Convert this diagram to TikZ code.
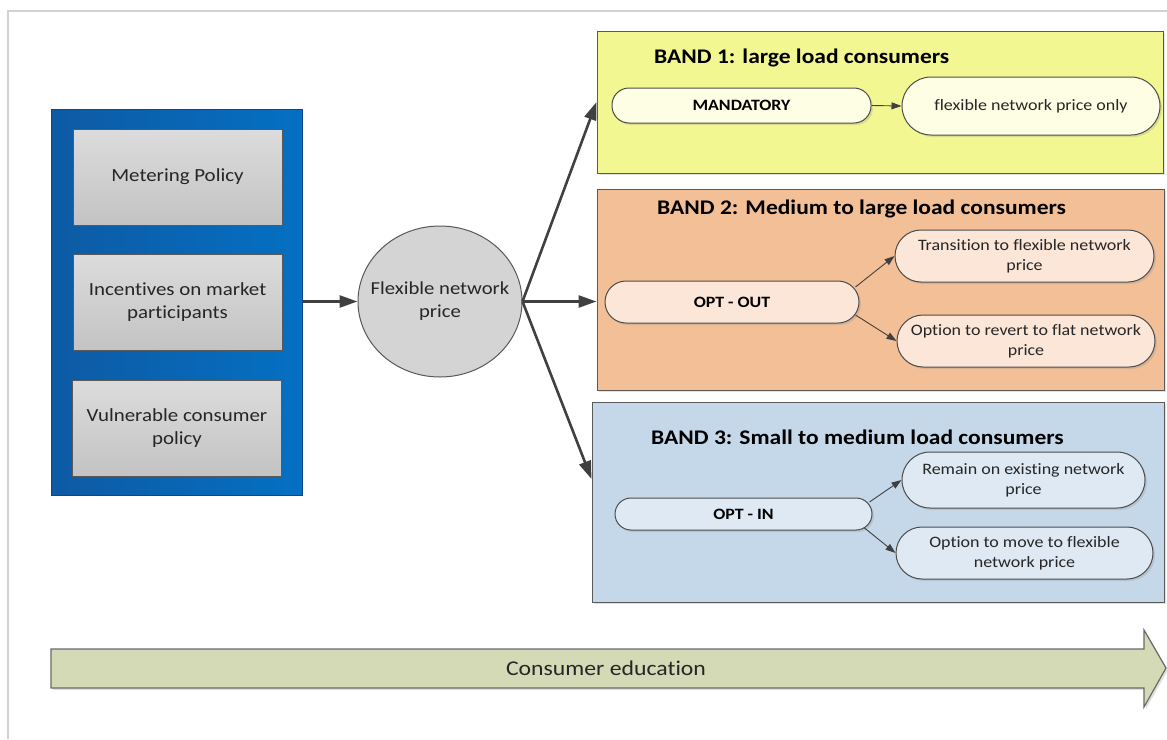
\documentclass[tikz,border=0pt]{standalone}
\usepackage{fontspec}
\setmainfont{Carlito}[FakeStretch=1.13,Ligatures=NoCommon]
\usetikzlibrary{arrows.meta,shapes.geometric,shadows,calc}

\definecolor{frameline}{RGB}{210,210,210}
\definecolor{edge}{RGB}{89,89,89}
\definecolor{arrowgrey}{RGB}{64,64,64}
\definecolor{panelL}{RGB}{14,90,164}
\definecolor{panelR}{RGB}{4,112,194}
\definecolor{boxT}{RGB}{220,220,220}
\definecolor{boxB}{RGB}{195,195,195}
\definecolor{hubfill}{RGB}{212,212,212}
\definecolor{bandA}{RGB}{243,247,145}
\definecolor{pillA}{RGB}{254,254,228}
\definecolor{bandB}{RGB}{242,191,150}
\definecolor{pillB}{RGB}{251,230,216}
\definecolor{bandC}{RGB}{197,216,233}
\definecolor{pillC}{RGB}{222,233,244}
\definecolor{edufill}{RGB}{211,218,181}

\newcommand{\fsz}[2]{\fontsize{#1}{#2}\selectfont}

\tikzset{
  softshadow/.style={drop shadow={opacity=0.22,shadow xshift=2pt,shadow yshift=-2pt}},
  policybox/.style={draw=edge,line width=1pt,top color=boxT,bottom color=boxB,
    minimum width=209pt,minimum height=96pt,inner sep=0pt,align=center,
    font=\fsz{18.5pt}{23pt},text=black!85},
  bandbox/.style={draw=edge,line width=1pt,inner sep=0pt,softshadow},
  bandtitle/.style={anchor=west,inner sep=0pt,font=\bfseries\fsz{20.8pt}{25pt}},
  pill/.style={draw=edge!85!black,line width=1pt,inner sep=0pt,align=center,
    font=\fsz{15.9pt}{20pt},text=black!85,softshadow},
  keypill/.style={pill,font=\bfseries\fsz{15.8pt}{19pt},text=black},
  bigarrow/.style={draw=arrowgrey,line width=2.6pt,-{Triangle[length=18pt,width=12pt]}},
  smallarrow/.style={draw=arrowgrey,line width=0.9pt,-{Triangle[length=10pt,width=7pt]}},
}

\begin{document}
\begin{tikzpicture}[x=1pt,y=-1pt]
\useasboundingbox (0,0) rectangle (1167,739);

% page frame
\draw[frameline,line width=1.2pt] (8,739) -- (8,11) -- (1167,11);

% policy panel
\node[draw=panelL!80!black,line width=1pt,left color=panelL,right color=panelR,
      minimum width=251pt,minimum height=386pt,inner sep=0pt] (panel) at (176.5,302) {};
\node[policybox] (meter) at (177.5,177) {Metering Policy};
\node[policybox] (incent) at (177.5,302) {Incentives on market\\participants};
\node[policybox] (vuln) at (177,428) {Vulnerable consumer\\policy};

% central price node
\node[ellipse,draw=edge,line width=1pt,fill=hubfill,minimum width=164pt,minimum height=151pt,
      inner sep=0pt] (hub) at (440,301.5) {};
\node[inner sep=0pt,align=center,font=\fsz{18.3pt}{23pt},text=black!85] (hubtext) at (hub.center)
      {Flexible network\\price};

% bands
\node[bandbox,fill=bandA,minimum width=566pt,minimum height=142pt] (band1) at (880,102) {};
\node[bandbox,fill=bandB,minimum width=567pt,minimum height=201pt] (band2) at (880.5,289.5) {};
\node[bandbox,fill=bandC,minimum width=572pt,minimum height=200pt] (band3) at (878,502) {};

\node[bandtitle] (t1) at (654,58) {BAND 1: large load consumers};
\node[bandtitle] (t2) at (657,209) {BAND 2: Medium to large load consumers};
\node[bandtitle] (t3) at (651,437) {BAND 3: Small to medium load consumers};

% band 1 options
\node[keypill,fill=pillA,minimum width=259pt,minimum height=35pt,rounded corners=17pt]
  (mand) at (741.5,105.5) {MANDATORY};
\node[pill,fill=pillA,minimum width=258pt,minimum height=58pt,rounded corners=29pt]
  (flexonly) at (1031,106) {flexible network price only};

% band 2 options
\node[keypill,fill=pillB,minimum width=254pt,minimum height=42pt,rounded corners=21pt]
  (optout) at (732,302) {OPT - OUT};
\node[pill,fill=pillB,minimum width=259pt,minimum height=52pt,rounded corners=26pt]
  (trans) at (1024.5,256) {Transition to flexible network\\price};
\node[pill,fill=pillB,minimum width=258pt,minimum height=52pt,rounded corners=26pt]
  (revert) at (1026,341) {Option to revert to flat network\\price};

% band 3 options
\node[keypill,fill=pillC,minimum width=257pt,minimum height=32pt,rounded corners=16pt]
  (optin) at (743.5,514) {OPT - IN};
\node[pill,fill=pillC,minimum width=243pt,minimum height=56pt,rounded corners=28pt]
  (remain) at (1023.5,480) {Remain on existing network\\price};
\node[pill,fill=pillC,minimum width=257pt,minimum height=52pt,rounded corners=26pt]
  (move) at (1024.5,553) {Option to move to flexible\\network price};

% main flow
\draw[bigarrow] (panel.east |- hub.west) -- (hub.west);
\draw[bigarrow] (hub.east) -- (band1.west);
\draw[bigarrow] (hub.east) -- (band2.west |- hub.east);
\draw[bigarrow] (hub.east) -- ([yshift=23pt]band3.west);

% option arrows
\draw[smallarrow] ($(optout.east)+(-4,-15)$) -- (trans.west);
\draw[smallarrow] ($(optout.east)+(-4,13)$) -- (revert.west);
\draw[smallarrow] (mand.east) -- (flexonly.west);
\draw[smallarrow] ($(optin.east)+(-3,-12)$) -- (remain.west);
\draw[smallarrow] ($(optin.east)+(-8,14)$) -- (move.west);

% consumer education arrow
\fill[black,opacity=0.12] (53,651) -- (1146,651) -- (1146,632) -- (1168,670) -- (1146,709) -- (1146,690) -- (53,690) -- cycle;
\draw[draw=edge!90,line width=1.2pt,fill=edufill]
  (51,649) -- (1144,649) -- (1144,630) -- (1166,668) -- (1144,707) -- (1144,688) -- (51,688) -- cycle;
\node[inner sep=0pt,font=\fsz{21pt}{25pt},text=black!85] (edu) at (606,668) {Consumer education};
\end{tikzpicture}
\end{document}
